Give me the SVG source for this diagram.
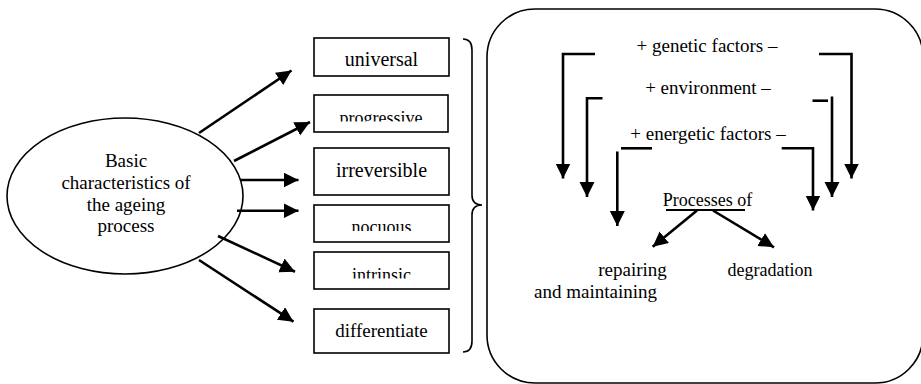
<svg xmlns="http://www.w3.org/2000/svg" width="921" height="384" viewBox="0 0 921 384">
<style>
text{font-family:"Liberation Serif","Times New Roman",serif;fill:#000}
.mid{text-anchor:middle}
.box{fill:#fff;stroke:#000;stroke-width:1.6}
.thin{fill:none;stroke:#000;stroke-width:1.6}
.arr{fill:none;stroke:#000;stroke-width:2.6;marker-end:url(#ah)}
.ln{fill:none;stroke:#000;stroke-width:2.6}
</style>
<defs>
<marker id="ah" markerUnits="userSpaceOnUse" markerWidth="16" markerHeight="16" refX="15" refY="7.5" orient="auto">
<path d="M0,0 L15,7.5 L0,15 z" fill="#000"/>
</marker>
<clipPath id="cProg"><rect x="314" y="95" width="134" height="26.5"/></clipPath>
<clipPath id="cNoc"><rect x="314" y="205" width="135" height="26"/></clipPath>
<clipPath id="cInt"><rect x="314" y="252" width="135" height="26.5"/></clipPath>
</defs>
<rect width="921" height="384" fill="#fff"/>

<g id="ellipse">
<ellipse cx="125" cy="196" rx="118" ry="78" class="thin"/>
<text class="mid" x="126" y="167" font-size="19">Basic</text>
<text class="mid" x="126" y="188.5" font-size="19">characteristics of</text>
<text class="mid" x="126" y="210.5" font-size="19">the ageing</text>
<text class="mid" x="126" y="232" font-size="19">process</text>
</g>

<g id="universal">
<rect class="box" x="314" y="38" width="135" height="38"/>
<text class="mid" x="381.5" y="66" font-size="20">universal</text>
</g>
<g id="progressive">
<rect class="box" x="314" y="95" width="134" height="37"/>
<text class="mid" x="381" y="124" font-size="18" clip-path="url(#cProg)">progressive</text>
</g>
<g id="irreversible">
<rect class="box" x="314" y="148" width="135" height="47"/>
<text class="mid" x="381.5" y="177" font-size="20">irreversible</text>
</g>
<g id="nocuous">
<rect class="box" x="314" y="205" width="135" height="37"/>
<text class="mid" x="381.5" y="233" font-size="18" clip-path="url(#cNoc)">nocuous</text>
</g>
<g id="intrinsic">
<rect class="box" x="314" y="252" width="135" height="37"/>
<text class="mid" x="381.5" y="281" font-size="18" clip-path="url(#cInt)">intrinsic</text>
</g>
<g id="differentiate">
<rect class="box" x="314" y="309" width="135" height="44"/>
<text class="mid" x="381.5" y="337" font-size="19">differentiate</text>
</g>

<g id="brace">
<path class="thin" d="M463 39 Q472 39 472 50 L472 195 Q472 205 482 205 Q472 205 472 215 L472 341 Q472 352 463 352"/>
</g>

<g id="panel">
<rect class="thin" x="487" y="9" width="436" height="374" rx="48" ry="48"/>
</g>

<g id="factors">
<text class="mid" x="707" y="52" font-size="19">+ genetic factors –</text>
<text class="mid" x="708" y="93.5" font-size="19">+ environment –</text>
<text class="mid" x="708" y="139.5" font-size="19">+ energetic factors –</text>
</g>
<g id="processes">
<text class="mid" x="707.5" y="205.5" font-size="18">Processes of</text>
<line class="ln" x1="666" y1="210" x2="745" y2="210" style="stroke-width:2"/>
</g>
<g id="repairing">
<text class="mid" x="632.5" y="276" font-size="19">repairing</text>
<text x="534" y="298" font-size="19">and maintaining</text>
</g>
<g id="degradation">
<text x="727.5" y="276" font-size="18">degradation</text>
</g>

<g id="connectors">
<path class="arr" d="M199 133 L291.5 70.5"/>
<path class="arr" d="M234 161 L310 122"/>
<path class="arr" d="M240 180 L298.5 180"/>
<path class="arr" d="M237 210.7 L298.5 210.7"/>
<path class="arr" d="M218 236 L295 271.7"/>
<path class="arr" d="M199 260 L293.5 321.7"/>

<path class="arr" d="M595 54 H563 V178.5"/>
<path class="arr" d="M819 54 H851.5 V178.5"/>
<path class="arr" d="M602.5 98.3 H587 V197"/>
<path class="ln" d="M812.5 100.7 H828"/>
<path class="arr" d="M832 96.5 V197"/>
<path class="ln" d="M621 148.3 H652"/>
<path class="arr" d="M617.3 151.5 V226"/>
<path class="arr" d="M781.7 148.3 H813 V210.5"/>

<path class="arr" d="M697 210.5 L652.7 246.7"/>
<path class="arr" d="M713 210.5 L774 247.3"/>
</g>
</svg>
